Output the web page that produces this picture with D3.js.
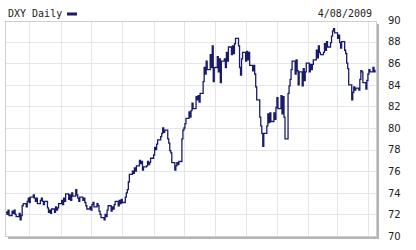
<!DOCTYPE html>
<html>
<head>
  <meta charset="utf-8">
  <script src="https://d3js.org/d3.v7.min.js"></script>
  <style>
    body { margin: 0; background: #fff; }
    text { fill: #222; }
  </style>
</head>
<body>
<script type="text/javascript">
  "use strict";
  // first trading day of the series, then one close per weekday
  var startDay = "2008-04-08";
  var domainDays = ["2008-04-07", "2009-04-09"];
  var yTicks = [70, 72, 74, 76, 78, 80, 82, 84, 86, 88, 90];
  var closes = [
    72.2, 72.0, 72.4, 71.9,
    72.3, 72.1, 72.4, 72.0, 71.8,
    72.1, 71.5, 71.9, 72.8, 73.0,
    72.7, 73.2, 73.5, 73.1, 73.6,
    73.8, 73.5, 73.2, 73.5, 73.0,
    73.3, 73.5, 73.2, 72.9, 73.2,
    72.6, 72.2, 72.4, 72.1, 72.5,
    72.2, 72.7, 72.4, 72.6, 73.0,
    73.3, 72.9, 73.5, 73.2, 73.9,
    73.4, 73.8, 73.3, 74.0, 73.7,
    74.3, 73.8, 73.5, 73.2, 73.6,
    73.3, 73.5, 73.1, 72.8, 72.5,
    72.7, 72.4, 72.9, 73.1, 72.7,
    73.0, 72.8, 72.3, 72.0, 71.7,
    71.5, 72.0, 71.8, 72.4, 72.8,
    72.3, 72.7, 72.5, 72.9, 73.2,
    72.8, 73.3, 73.0, 73.4, 73.1,
    73.6, 74.0, 74.3, 75.0, 75.7,
    76.0, 75.8, 76.3, 76.0, 76.5,
    77.0, 76.7, 76.9, 76.1, 76.4,
    76.5, 76.9, 76.6, 76.8, 77.2,
    77.5, 78.2, 78.0, 78.5, 78.9,
    79.2, 79.5, 80.0, 79.6, 79.8,
    79.0, 78.6, 77.9, 77.7, 76.8,
    76.1, 76.5, 76.8, 76.6, 76.9,
    79.0, 79.8, 80.0, 80.4, 80.9,
    81.5, 81.0, 81.6, 82.3, 81.8,
    82.9, 82.6, 83.0, 82.4, 83.2,
    84.3, 85.6, 85.0, 86.2, 85.4,
    86.8, 85.6, 87.6, 84.3, 85.6,
    86.6, 85.2, 86.4, 84.2, 86.2,
    86.4, 85.6, 87.0, 86.2, 87.5,
    86.8, 87.6, 86.9, 87.8, 88.3,
    87.6, 85.6, 84.9, 86.4, 87.0,
    86.2, 87.1, 86.3, 87.0, 85.8,
    85.3, 85.8, 85.0, 83.8, 82.6,
    81.0, 80.2, 79.5, 78.3, 79.5,
    80.2, 81.3, 80.5, 81.4, 80.6,
    81.4, 80.8, 81.9, 82.8, 81.8,
    83.0, 81.3, 82.9, 81.0, 79.0,
    83.2, 83.9, 84.5, 85.4, 86.2,
    85.0, 86.3, 85.3, 84.0, 85.2,
    83.9, 85.5, 84.4, 85.2, 86.0,
    85.2, 85.9, 85.4, 85.9, 86.3,
    87.2, 86.5, 87.6, 87.0, 86.8,
    87.0, 87.8, 87.2, 88.0, 87.5,
    87.9, 88.5, 89.0, 89.2, 88.8,
    88.3, 88.6, 87.9, 87.4, 88.0,
    87.2, 86.9, 86.0, 85.5, 84.0,
    82.6, 83.3, 83.8, 83.5, 83.7,
    83.5, 84.5, 85.3, 85.2, 84.2,
    83.6, 84.4, 85.0, 85.4, 85.2,
    85.6, 85.2, 85.4
  ];

  var parse = d3.utcParse("%Y-%m-%d");
  // pair each close with the next weekday
  var days = d3.utcDay.range(parse(startDay), parse(domainDays[1]))
      .filter(function (d) { return d.getUTCDay() !== 0 && d.getUTCDay() !== 6; });
  var data = closes.map(function (c, i) { return { date: days[i], close: c }; });

  var W = 416, H = 250;
  var plot = { left: 5, top: 21, right: 376, bottom: 236 };

  var svg = d3.select("body").append("svg")
      .attr("width", W)
      .attr("height", H);

  var x = d3.scaleUtc()
      .domain(domainDays.map(parse))
      .range([plot.left, plot.right]);
  var y = d3.scaleLinear()
      .domain([70, 90])
      .range([plot.bottom, plot.top - 1]);

  // frame with grey drop shadow on right and bottom
  svg.append("rect")
      .attr("x", plot.left + 3).attr("y", plot.top + 3)
      .attr("width", plot.right - plot.left).attr("height", plot.bottom - plot.top)
      .attr("fill", "#b4b4b4");
  svg.append("rect")
      .attr("x", plot.left + 0.5).attr("y", plot.top + 0.5)
      .attr("width", plot.right - plot.left).attr("height", plot.bottom - plot.top)
      .attr("fill", "#fff")
      .attr("stroke", "#cfcfcf");

  // month gridlines
  svg.append("g").selectAll("line")
      .data(d3.utcMonth.range(parse(domainDays[0]), parse(domainDays[1])))
      .enter().append("line")
      .attr("x1", function (d) { return Math.round(x(d)) + 0.5; })
      .attr("x2", function (d) { return Math.round(x(d)) + 0.5; })
      .attr("y1", plot.top + 1).attr("y2", plot.bottom)
      .attr("stroke", "#e4e4ec");

  // value gridlines
  svg.append("g").selectAll("line")
      .data(yTicks.slice(1, -1))
      .enter().append("line")
      .attr("x1", plot.left + 1).attr("x2", plot.right)
      .attr("y1", function (d) { return Math.round(y(d)) + 0.5; })
      .attr("y2", function (d) { return Math.round(y(d)) + 0.5; })
      .attr("stroke", "#e4e4ec");

  // the series
  var line = d3.line()
      .curve(d3.curveStepAfter)
      .x(function (d) { return x(d.date); })
      .y(function (d) { return y(d.close); });

  svg.append("path")
      .datum(data)
      .attr("d", line)
      .attr("fill", "none")
      .attr("stroke", "#1a1a6c")
      .attr("stroke-width", 1.3);

  // right axis labels
  var yAxis = d3.axisRight(y).tickValues(yTicks).tickSize(0).tickPadding(0);
  var ga = svg.append("g")
      .attr("transform", "translate(388,0)")
      .call(yAxis);
  ga.select(".domain").remove();
  ga.selectAll("text")
      .style("font-family", "'DejaVu Sans', Verdana, sans-serif")
      .style("font-size", "10px")
      .attr("fill", "#222");

  // title, legend swatch, date
  svg.append("text")
      .attr("x", 8).attr("y", 17)
      .style("font-family", "'DejaVu Sans Mono', monospace")
      .style("font-size", "10px")
      .text("DXY Daily");
  svg.append("rect")
      .attr("x", 67).attr("y", 12.5)
      .attr("width", 10).attr("height", 3)
      .attr("fill", "#1a1a6c");
  svg.append("text")
      .attr("x", 372).attr("y", 17)
      .attr("text-anchor", "end")
      .style("font-family", "'DejaVu Sans Mono', monospace")
      .style("font-size", "10px")
      .text("4/08/2009");
</script>
</body>
</html>
